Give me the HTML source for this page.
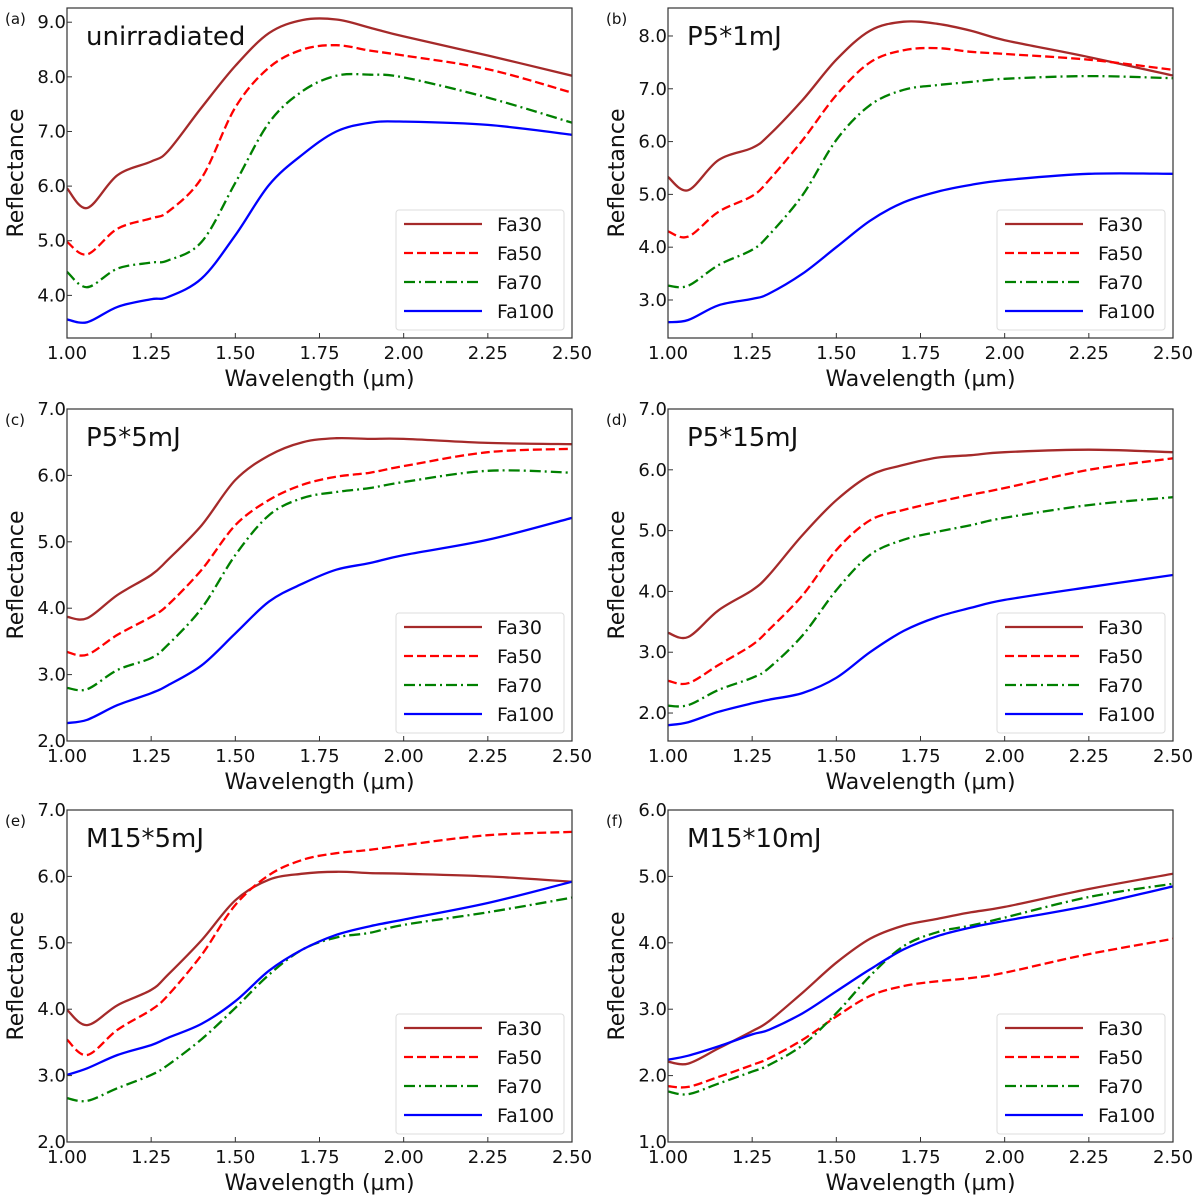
<!DOCTYPE html>
<html><head><meta charset="utf-8">
<style>
html,body{margin:0;padding:0;background:#fff;}
svg{display:block;font-family:"DejaVu Sans","Liberation Sans",sans-serif;}
</style></head>
<body>
<svg id="fig" width="1200" height="1202" viewBox="0 0 1200 1202" xmlns="http://www.w3.org/2000/svg"></svg>
<script>
const wavelengths = [1.0,1.06,1.15,1.25,1.3,1.4,1.5,1.6,1.7,1.8,1.9,2.0,2.25,2.5];
const xTicks = [1.00,1.25,1.50,1.75,2.00,2.25,2.50];
const seriesNames = ["Fa30","Fa50","Fa70","Fa100"];

const aFa30 = [5.96,5.6,6.2,6.45,6.64,7.44,8.2,8.8,9.04,9.05,8.9,8.74,8.39,8.02];
const aFa50 = [4.98,4.75,5.22,5.41,5.53,6.15,7.44,8.17,8.5,8.58,8.48,8.39,8.14,7.71];
const aFa70 = [4.43,4.15,4.49,4.6,4.64,4.98,6.06,7.16,7.74,8.02,8.04,7.99,7.62,7.16];
const aFa100 = [3.56,3.51,3.79,3.93,3.97,4.31,5.1,6.02,6.58,7.0,7.16,7.18,7.12,6.94];

const bFa30 = [5.33,5.08,5.65,5.88,6.12,6.79,7.55,8.1,8.27,8.23,8.1,7.92,7.6,7.25];
const bFa50 = [4.3,4.2,4.67,4.97,5.27,6.03,6.88,7.5,7.73,7.77,7.7,7.66,7.55,7.36];
const bFa70 = [3.27,3.27,3.66,3.95,4.23,4.99,6.03,6.69,6.98,7.07,7.13,7.19,7.24,7.2];
const bFa100 = [2.58,2.62,2.9,3.02,3.12,3.5,4.0,4.5,4.85,5.05,5.18,5.27,5.39,5.39];

const cFa30 = [3.87,3.85,4.2,4.5,4.73,5.25,5.93,6.3,6.5,6.56,6.55,6.55,6.49,6.47];
const cFa50 = [3.34,3.3,3.6,3.87,4.05,4.58,5.25,5.63,5.86,5.98,6.04,6.14,6.35,6.4];
const cFa70 = [2.8,2.78,3.07,3.25,3.45,4.0,4.8,5.4,5.66,5.75,5.81,5.9,6.07,6.04];
const cFa100 = [2.27,2.32,2.54,2.72,2.84,3.14,3.62,4.1,4.37,4.58,4.68,4.8,5.03,5.36];

const dFa30 = [3.32,3.25,3.69,4.02,4.27,4.93,5.5,5.91,6.08,6.2,6.24,6.29,6.33,6.29];
const dFa50 = [2.53,2.49,2.79,3.12,3.37,3.94,4.68,5.17,5.34,5.47,5.59,5.7,6.0,6.19];
const dFa70 = [2.12,2.13,2.38,2.58,2.74,3.28,4.02,4.6,4.85,4.98,5.09,5.21,5.42,5.55];
const dFa100 = [1.8,1.85,2.02,2.16,2.22,2.33,2.58,3.0,3.35,3.58,3.73,3.86,4.07,4.27];

const eFa30 = [3.99,3.76,4.06,4.29,4.52,5.04,5.64,5.95,6.04,6.07,6.05,6.04,6.0,5.92];
const eFa50 = [3.54,3.31,3.69,3.99,4.21,4.82,5.57,6.02,6.25,6.35,6.4,6.47,6.62,6.67];
const eFa70 = [2.66,2.62,2.81,3.01,3.16,3.55,4.02,4.52,4.9,5.08,5.15,5.27,5.46,5.68];
const eFa100 = [3.01,3.11,3.31,3.46,3.57,3.78,4.12,4.58,4.9,5.12,5.25,5.35,5.6,5.92];

const fFa30 = [2.21,2.18,2.41,2.67,2.82,3.25,3.7,4.06,4.26,4.36,4.46,4.54,4.81,5.04];
const fFa50 = [1.84,1.83,1.98,2.16,2.26,2.54,2.89,3.2,3.35,3.42,3.47,3.55,3.83,4.06];
const fFa70 = [1.76,1.72,1.88,2.06,2.16,2.46,2.94,3.5,3.95,4.16,4.26,4.38,4.69,4.89];
const fFa100 = [2.24,2.3,2.44,2.62,2.69,2.94,3.27,3.6,3.9,4.1,4.23,4.33,4.56,4.85];

const panelTags = ["(a)","(b)","(c)","(d)","(e)","(f)"];
const panelTitles = ["unirradiated","P5*1mJ","P5*5mJ","P5*15mJ","M15*5mJ","M15*10mJ"];
const yTicksA = [4,5,6,7,8,9];
const yTicksB = [3,4,5,6,7,8];
const yTicksC = [2,3,4,5,6,7];
const yTicksD = [2,3,4,5,6,7];
const yTicksE = [2,3,4,5,6,7];
const yTicksF = [1,2,3,4,5,6];

const NS = "http://www.w3.org/2000/svg";
const fig = document.getElementById("fig");
function mk(tag, attrs, parent){
  const e = document.createElementNS(NS, tag);
  for (const k in attrs) e.setAttribute(k, attrs[k]);
  (parent||fig).appendChild(e);
  return e;
}
const colors = ["#a52a2a","#ff0000","#008000","#0000ff"];
const dashes = ["", "9,4", "11,4,2,4", ""];

const panels = [
  {l:67,r:572,t:8,b:338,ymin:3.22,ymax:9.26,ticks:yTicksA,data:[aFa30,aFa50,aFa70,aFa100]},
  {l:668,r:1173,t:8,b:338,ymin:2.28,ymax:8.53,ticks:yTicksB,data:[bFa30,bFa50,bFa70,bFa100]},
  {l:67,r:572,t:409,b:741,ymin:2.0,ymax:7.0,ticks:yTicksC,data:[cFa30,cFa50,cFa70,cFa100]},
  {l:668,r:1173,t:409,b:741,ymin:1.54,ymax:7.0,ticks:yTicksD,data:[dFa30,dFa50,dFa70,dFa100]},
  {l:67,r:572,t:810,b:1142,ymin:2.0,ymax:7.0,ticks:yTicksE,data:[eFa30,eFa50,eFa70,eFa100]},
  {l:668,r:1173,t:810,b:1142,ymin:1.0,ymax:6.0,ticks:yTicksF,data:[fFa30,fFa50,fFa70,fFa100]}
];

function smoothPath(pts){
  let d = "M"+pts[0][0].toFixed(1)+","+pts[0][1].toFixed(1);
  for (let i=0;i<pts.length-1;i++){
    const p0 = pts[Math.max(0,i-1)], p1 = pts[i], p2 = pts[i+1], p3 = pts[Math.min(pts.length-1,i+2)];
    const c1x = p1[0]+(p2[0]-p0[0])/6, c1y = p1[1]+(p2[1]-p0[1])/6;
    const c2x = p2[0]-(p3[0]-p1[0])/6, c2y = p2[1]-(p3[1]-p1[1])/6;
    d += " C"+c1x.toFixed(1)+","+c1y.toFixed(1)+" "+c2x.toFixed(1)+","+c2y.toFixed(1)+" "+p2[0].toFixed(1)+","+p2[1].toFixed(1);
  }
  return d;
}

panels.forEach((p, pi) => {
  const g = mk("g", {});
  
  
  const xs = v => p.l + (v-1.0)/(2.5-1.0)*(p.r-p.l);
  const ys = v => p.b - (v-p.ymin)/(p.ymax-p.ymin)*(p.b-p.t);
  const clipId = "clip"+pi;
  const cp = mk("clipPath", {id:clipId}, g);
  mk("rect", {x:p.l, y:p.t, width:p.r-p.l, height:p.b-p.t}, cp);

  p.data.forEach((vals, si) => {
    const pts = wavelengths.map((w,i)=>[xs(w), ys(vals[i])]);
    const path = mk("path", {d:smoothPath(pts), fill:"none", stroke:colors[si], "stroke-width":2.3, "clip-path":"url(#"+clipId+")"}, g);
    if (dashes[si]) path.setAttribute("stroke-dasharray", dashes[si]);
    
    
  });

  const frame = mk("rect", {x:p.l, y:p.t, width:p.r-p.l, height:p.b-p.t, fill:"none", stroke:"#333", "stroke-width":1.2}, g);
  
  

  xTicks.forEach(v => {
    const x = xs(v);
    mk("line", {x1:x, x2:x, y1:p.b, y2:p.b-5, stroke:"#333", "stroke-width":1}, g);
    const t = mk("text", {x:x, y:p.b+21, "font-size":18, "text-anchor":"middle", fill:"#111"}, g);
    t.textContent = v.toFixed(2);
    
    
  });
  p.ticks.forEach(v => {
    const y = ys(v);
    mk("line", {x1:p.l, x2:p.l+5, y1:y, y2:y, stroke:"#333", "stroke-width":1}, g);
    const t = mk("text", {x:p.l-1, y:y+6, "font-size":18, "text-anchor":"end", fill:"#111"}, g);
    t.textContent = v.toFixed(1);
    
    
  });
  const xt = mk("text", {x:(p.l+p.r)/2, y:p.b+48, "font-size":22, "text-anchor":"middle", fill:"#111"}, g);
  xt.textContent = "Wavelength (\u00b5m)";
  
  
  const yx = p.l - 44, yy = (p.t+p.b)/2;
  const yt = mk("text", {x:yx, y:yy, "font-size":22, "text-anchor":"middle", fill:"#111", transform:"rotate(-90 "+yx+" "+yy+")"}, g);
  yt.textContent = "Reflectance";
  
  
  const tg = mk("text", {x:p.l-62, y:p.t+16, "font-size":15, fill:"#111"}, g);
  tg.textContent = panelTags[pi];
  
  
  const tt = mk("text", {x:p.l+19, y:p.t+37, "font-size":26, fill:"#111"}, g);
  tt.textContent = panelTitles[pi];
  
  
  const lg = mk("g", {}, g);
  
  
  mk("rect", {x:p.r-176, y:p.b-128, width:168, height:120, rx:3, fill:"#fff", stroke:"#ddd", "stroke-width":1}, lg);
  seriesNames.forEach((n, si) => {
    const y = p.b-114 + si*29;
    const ln = mk("line", {x1:p.r-168, x2:p.r-90, y1:y, y2:y, stroke:colors[si], "stroke-width":2.3}, lg);
    if (dashes[si]) ln.setAttribute("stroke-dasharray", dashes[si]);
    
    
    const lt = mk("text", {x:p.r-75, y:y+7, "font-size":19, fill:"#111"}, lg);
    lt.textContent = n;
    
    
  });
});
</script>
</body></html>
